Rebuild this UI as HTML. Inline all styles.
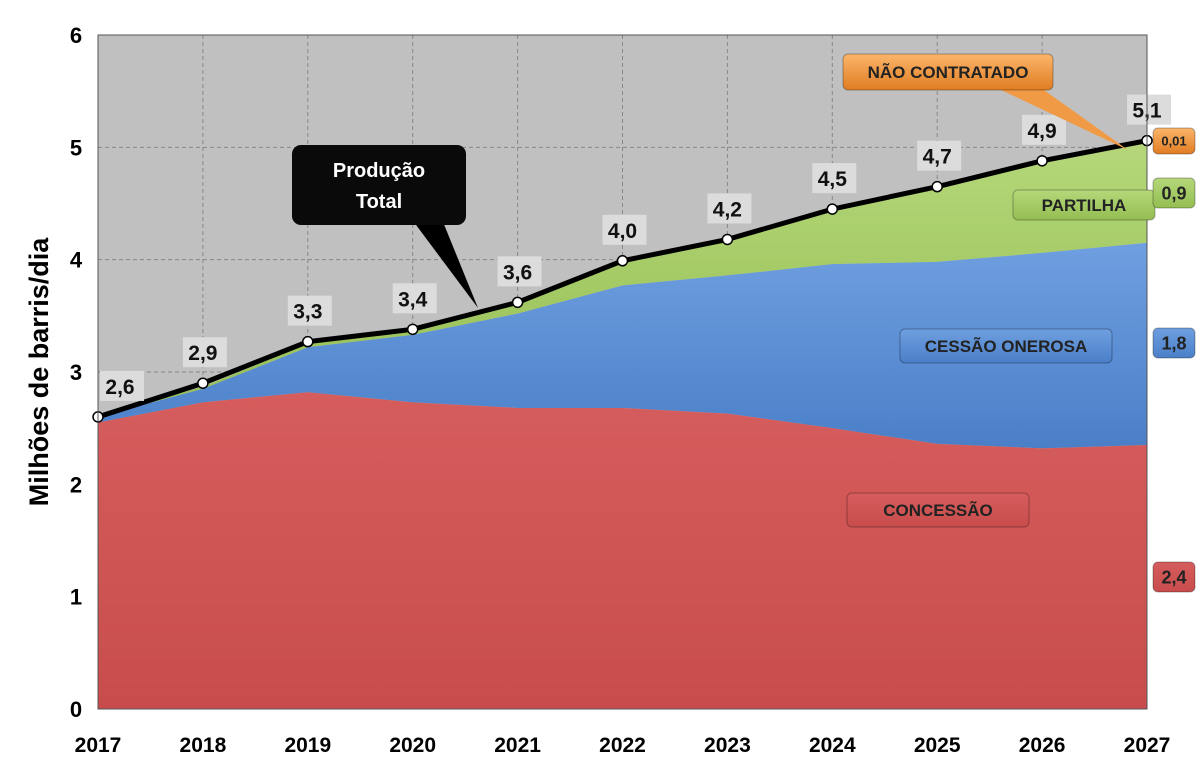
<!DOCTYPE html>
<html><head><meta charset="utf-8"><style>
body{margin:0;background:#fff;width:1200px;height:776px;overflow:hidden;font-family:"Liberation Sans",sans-serif}
svg{display:block}
</style></head><body>
<svg id="chart" width="1200" height="776">
<defs>
<linearGradient id="gO" x1="0" y1="0" x2="0" y2="1"><stop offset="0" stop-color="#fbb56a"/><stop offset="1" stop-color="#e07d22"/></linearGradient>
<linearGradient id="gG" x1="0" y1="0" x2="0" y2="1"><stop offset="0" stop-color="#b5d77a"/><stop offset="1" stop-color="#94be52"/></linearGradient>
<linearGradient id="gB" x1="0" y1="0" x2="0" y2="1"><stop offset="0" stop-color="#6f9fe0"/><stop offset="1" stop-color="#4a7fc8"/></linearGradient>
<linearGradient id="gR" x1="0" y1="0" x2="0" y2="1"><stop offset="0" stop-color="#d65d5d"/><stop offset="1" stop-color="#c84c4c"/></linearGradient>
</defs>
</svg>
<script>
const years=[2017,2018,2019,2020,2021,2022,2023,2024,2025,2026,2027];
const concessao=[2.55,2.73,2.82,2.73,2.68,2.68,2.63,2.5,2.36,2.32,2.35];
const cessao=[0.05,0.12,0.40,0.60,0.84,1.09,1.23,1.46,1.62,1.74,1.80];
const partilha=[0,0.02,0.03,0.04,0.08,0.21,0.32,0.48,0.66,0.81,0.90];
const total=[2.6,2.9,3.27,3.38,3.62,3.99,4.18,4.45,4.65,4.88,5.06];
const totalLabels=["2,6","2,9","3,3","3,4","3,6","4,0","4,2","4,5","4,7","4,9","5,1"];
const yTicks=[0,1,2,3,4,5,6];
const NS="http://www.w3.org/2000/svg",svg=document.getElementById('chart');
const X0=98,X1=1147,Y0=709,Y6=35;
const x=i=>X0+(X1-X0)*i/(years.length-1);
const y=v=>Y0-(Y0-Y6)*v/6;
function mk(t,a,p){const e=document.createElementNS(NS,t);for(const k in a)e.setAttribute(k,a[k]);(p||svg).appendChild(e);return e;}
let e=mk('rect',{x:X0,y:Y6,width:X1-X0,height:Y0-Y6,fill:'#c0c0c0'});

yTicks.forEach(v=>{
 mk('line',{x1:X0,x2:X1,y1:y(v),y2:y(v),stroke:'#888','stroke-dasharray':'4,3'});
 const t=mk('text',{x:X0-22,y:y(v)+8,'text-anchor':'middle','font-size':22,'font-weight':'bold',fill:'#000'});t.textContent=v;
 
});
years.forEach((yr,i)=>{
 mk('line',{x1:x(i),x2:x(i),y1:Y6,y2:Y0,stroke:'#888','stroke-dasharray':'4,3'});
 const t=mk('text',{x:x(i),y:752,'text-anchor':'middle','font-size':21,'font-weight':'bold',fill:'#000'});t.textContent=yr;
 
});
const c1=concessao, c2=concessao.map((v,i)=>v+cessao[i]), c3=c2.map((v,i)=>v+partilha[i]);
function area(top,bot,fill,name){
 let d='M'+top.map((v,i)=>x(i)+','+y(v)).join(' L');
 for(let i=bot.length-1;i>=0;i--)d+=' L'+x(i)+','+y(bot[i]);
 const p=mk('path',{d:d+'Z',fill:fill});
 
}
const zero=years.map(()=>0);
area(c3,c2,'url(#gG)','partilha-area');
area(c2,c1,'url(#gB)','cessao-onerosa-area');
area(c1,zero,'url(#gR)','concessao-area');
let l=mk('polyline',{points:total.map((v,i)=>x(i)+','+y(v)).join(' '),fill:'none',stroke:'#000','stroke-width':5});

total.forEach((v,i)=>{
 const bx=mk('rect',{x:x(i)-20+(i==0?22:0),y:y(v)-46,width:44,height:30,fill:'#dcdcdc'});
 const t=mk('text',{x:x(i)+(i==0?22:0),y:y(v)-23,'text-anchor':'middle','font-size':21,'font-weight':'bold',fill:'#111'});t.textContent=totalLabels[i];
 
 const c=mk('circle',{cx:x(i),cy:y(v),r:5,fill:'#fff',stroke:'#000','stroke-width':1.5});
 
});
mk('rect',{x:X0,y:Y6,width:X1-X0,height:Y0-Y6,fill:'none',stroke:'#555'});
let at=mk('text',{x:48,y:372,'text-anchor':'middle','font-size':27,'font-weight':'bold',fill:'#000',transform:'rotate(-90 48 372)'});at.textContent='Milhões de barris/dia';

function box(bx,by,w,h,fill,txt,name,fs,col){
 mk('rect',{x:bx,y:by,width:w,height:h,rx:5,fill:fill,stroke:'rgba(0,0,0,0.3)'});
 const t=mk('text',{x:bx+w/2,y:by+h/2+fs*0.36,'text-anchor':'middle','font-size':fs,'font-weight':'bold',fill:col||'#222'});t.textContent=txt;
 
}
mk('polygon',{points:'390,190 430,190 478,308',fill:'#000'});
mk('rect',{x:292,y:145,width:174,height:80,rx:9,fill:'#0a0a0a'});
let pt=mk('text',{x:379,y:177,'text-anchor':'middle','font-size':20,'font-weight':'bold',fill:'#fff'});pt.textContent='Produção';

let pt2=mk('text',{x:379,y:208,'text-anchor':'middle','font-size':20,'font-weight':'bold',fill:'#fff'});pt2.textContent='Total';
mk('polygon',{points:'980,80 1030,80 1128,150',fill:'#f09a45'});
box(843,54,210,36,'url(#gO)','NÃO CONTRATADO','callout-nao-contratado',17);
box(1013,190,142,30,'url(#gG)','PARTILHA','label-partilha',17);
box(900,329,212,34,'url(#gB)','CESSÃO ONEROSA','label-cessao-onerosa',17);
box(847,493,182,34,'url(#gR)','CONCESSÃO','label-concessao',17);
box(1153,128,42,26,'url(#gO)','0,01','value-nao-contratado',13);
box(1153,178,42,30,'url(#gG)','0,9','value-partilha',18);
box(1153,328,42,30,'url(#gB)','1,8','value-cessao',18);
box(1153,562,42,30,'url(#gR)','2,4','value-concessao',18);
</script>
</body></html>
